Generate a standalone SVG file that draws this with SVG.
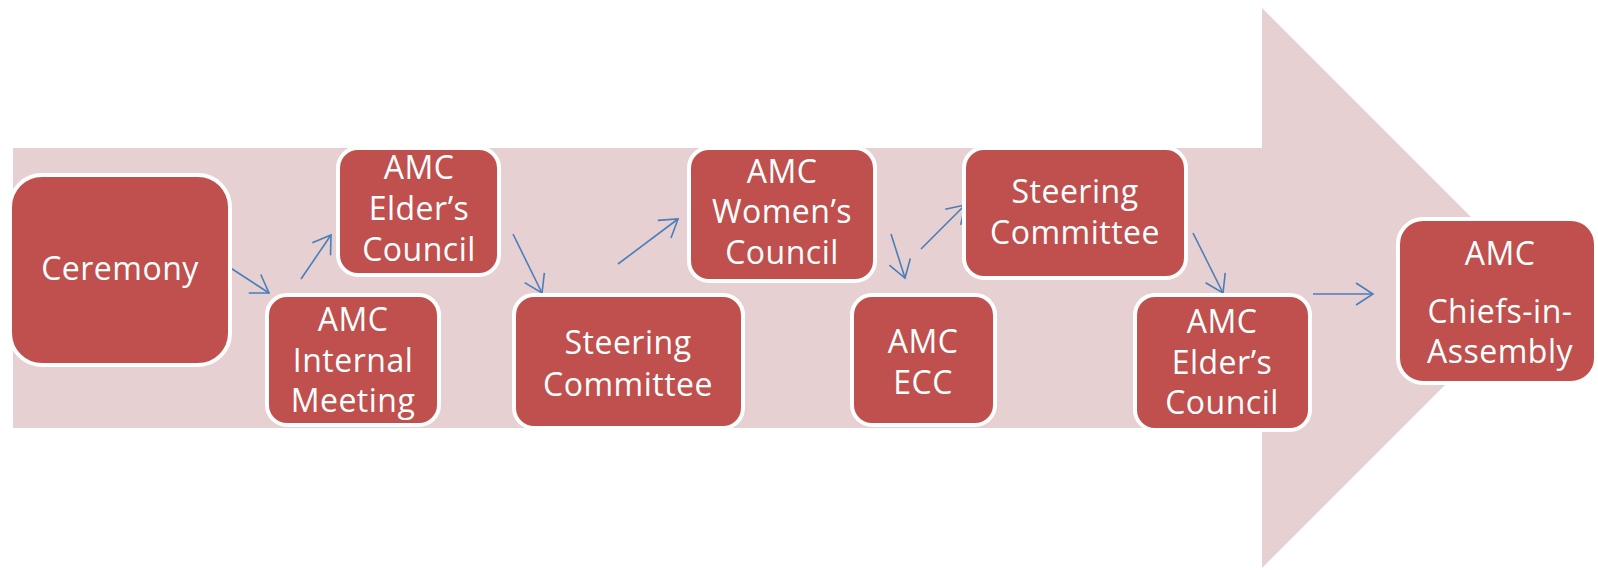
<svg xmlns="http://www.w3.org/2000/svg" width="1598" height="570" viewBox="0 0 1598 570">
<style>
.node rect{fill:#c0504d;stroke:#ffffff;stroke-width:4}
.node text{fill:#ffffff;font-family:"Open Sans","Noto Sans","Liberation Sans",sans-serif;font-size:32px;letter-spacing:0.5px;text-anchor:middle}
.conn line{stroke:#4a7ebb;stroke-width:1.6;fill:none}
</style>
<defs>
<marker id="ah" markerUnits="userSpaceOnUse" markerWidth="20" markerHeight="24" viewBox="0 0 20 24" refX="18" refY="12" orient="auto">
<path d="M1,1 L18,12 L1,23" fill="none" stroke="#4a7ebb" stroke-width="1.6"/>
</marker>
</defs>
<rect width="1598" height="570" fill="#ffffff"/>
<g id="bigarrow">
<polygon points="13,148 1262,148 1262,8 1542,288 1262,568 1262,428 13,428" fill="#e6d0d1"/>
</g>
<g id="connectors" class="conn">
<line x1="226" y1="265" x2="269" y2="293" marker-end="url(#ah)"/>
<line x1="301" y1="279" x2="331" y2="235" marker-end="url(#ah)"/>
<line x1="513" y1="234" x2="542" y2="293" marker-end="url(#ah)"/>
<line x1="618" y1="264" x2="678" y2="219" marker-end="url(#ah)"/>
<line x1="891" y1="234" x2="905" y2="278" marker-end="url(#ah)"/>
<line x1="921" y1="249" x2="965" y2="205" marker-end="url(#ah)"/>
<line x1="1193" y1="233" x2="1223" y2="293" marker-end="url(#ah)"/>
<line x1="1313" y1="294" x2="1373" y2="294" marker-end="url(#ah)"/>
</g>
<g id="n-ceremony" class="node">
<rect x="10" y="175" width="220" height="190" rx="32"/>
<text x="120" y="280">Ceremony</text>
</g>
<g id="n-internal" class="node">
<rect x="267" y="295" width="172" height="130" rx="20"/>
<text x="353" y="331">AMC</text>
<text x="353" y="372">Internal</text>
<text x="353" y="412">Meeting</text>
</g>
<g id="n-elder1" class="node">
<rect x="338" y="148" width="161" height="127" rx="20"/>
<text x="419" y="179">AMC</text>
<text x="419" y="220">Elder’s</text>
<text x="419" y="261">Council</text>
</g>
<g id="n-steering1" class="node">
<rect x="514" y="295" width="229" height="133" rx="20"/>
<text x="628" y="354">Steering</text>
<text x="628" y="396">Committee</text>
</g>
<g id="n-women" class="node">
<rect x="689" y="148" width="186" height="133" rx="20"/>
<text x="782" y="183">AMC</text>
<text x="782" y="223">Women’s</text>
<text x="782" y="264">Council</text>
</g>
<g id="n-ecc" class="node">
<rect x="852" y="295" width="143" height="130" rx="20"/>
<text x="923" y="353">AMC</text>
<text x="923" y="394">ECC</text>
</g>
<g id="n-steering2" class="node">
<rect x="964" y="148" width="222" height="130" rx="20"/>
<text x="1075" y="203">Steering</text>
<text x="1075" y="244">Committee</text>
</g>
<g id="n-elder2" class="node">
<rect x="1135" y="295" width="175" height="135" rx="20"/>
<text x="1222" y="333">AMC</text>
<text x="1222" y="374">Elder’s</text>
<text x="1222" y="414">Council</text>
</g>
<g id="n-chiefs" class="node">
<rect x="1398" y="219" width="198" height="164" rx="25"/>
<text x="1500" y="265">AMC</text>
<text x="1500" y="323">Chiefs-in-</text>
<text x="1500" y="363">Assembly</text>
</g>
</svg>
